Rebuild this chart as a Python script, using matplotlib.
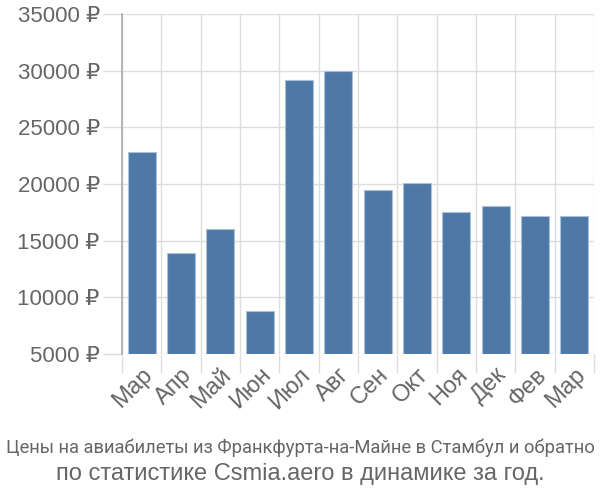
import matplotlib
matplotlib.use("Agg")
import matplotlib.pyplot as plt
import numpy as np

months = ["Мар", "Апр", "Май", "Июн", "Июл", "Авг", "Сен", "Окт", "Ноя", "Дек", "Фев", "Мар"]
prices = [22800, 13900, 16050, 8780, 29180, 30000, 19450, 20080, 17560, 18070, 17150, 17150]
yticks = [5000, 10000, 15000, 20000, 25000, 30000, 35000]
ytick_labels = [f"{v} ₽" for v in yticks]
title1 = "Цены на авиабилеты из Франкфурта-на-Майне в Стамбул и обратно"
title2 = "по статистике Csmia.aero в динамике за год."

plt.rcParams['font.family'] = ['Liberation Sans', 'DejaVu Sans']

fig = plt.figure(figsize=(6, 5), dpi=100)
ax = fig.add_axes([122/600, 1-354/500, (594-122)/600, (354-14)/500])

x = np.arange(len(months))
base = 5000
ax.bar(x, np.array(prices) - base, bottom=base, width=0.72, color="#4e79a7",
       edgecolor="#aac0d8", linewidth=0.8, zorder=3)

ax.set_xlim(-0.5, len(months) - 0.5)
ax.set_ylim(5000, 35000)

ax.set_yticks(yticks)
ax.set_yticklabels(ytick_labels, fontsize=16, color="#666666")
ax.tick_params(axis='y', length=14, width=1, color="#dddddd", pad=2)

ax.set_xticks(x)
ax.set_xticklabels(months, rotation=45, ha='right', rotation_mode='anchor',
                   fontsize=17, color="#666666")
ax.tick_params(axis='x', which='major', length=0, pad=7)
ax.set_xticks(np.arange(-0.5, len(months), 1), minor=True)
ax.tick_params(axis='x', which='minor', length=14, width=1, color="#dddddd")

ax.grid(axis='y', which='major', color="#dddddd", linewidth=1, zorder=0)
ax.grid(axis='x', which='minor', color="#dddddd", linewidth=1, zorder=0)

for s in ['top', 'right', 'bottom']:
    ax.spines[s].set_visible(False)
ax.spines['left'].set_color("#aaaaaa")
ax.spines['left'].set_linewidth(1.2)
ax.spines['left'].set_zorder(4)

fig.text(0.5, 1-448/500, title1, ha='center', va='center', fontsize=13.2,
         color="#666666", family=['Roboto', 'Liberation Sans', 'DejaVu Sans'])
fig.text(0.5, 1-474/500, title2, ha='center', va='center', fontsize=17,
         color="#666666")

fig.savefig("out.png", dpi=100)
